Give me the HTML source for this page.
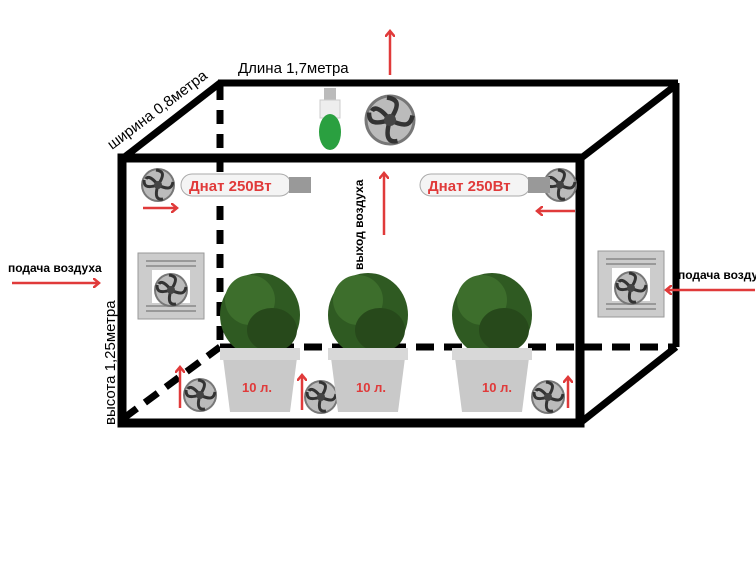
<!DOCTYPE html>
<html><head><meta charset="utf-8"><style>body{margin:0;background:#fff}svg{display:block}text{font-family:"Liberation Sans",sans-serif}</style></head><body>
<svg width="756" height="567" viewBox="0 0 756 567">
<defs>
<marker id="ah" markerWidth="10" markerHeight="10" refX="5" refY="5" orient="auto" markerUnits="userSpaceOnUse"><path d="M0,0 L6,5 L0,10" fill="none" stroke="#e03a3a" stroke-width="2.5"/></marker>
<g id="fan"><circle r="17" fill="#777"/><circle r="15" fill="#bbb"/><path d="M0,0 C8,-12 4,-14 -2,-15 M0,0 C12,6 14,2 15,-3 M0,0 C-4,13 0,15 5,14 M0,0 C-13,4 -14,0 -14,-5 M0,0 C-8,-10 -11,-8 -12,-6" stroke="#333" stroke-width="3" fill="none"/><circle r="4" fill="#444"/></g>
<g id="plant"><ellipse cx="0" cy="-35" rx="40" ry="42" fill="#2f5a22"/><ellipse cx="-10" cy="-50" rx="25" ry="25" fill="#3d6e2c"/><ellipse cx="12" cy="-20" rx="25" ry="22" fill="#27491b"/><path d="M-38,0 L38,0 L30,62 L-30,62 Z" fill="#c9c9c9"/><rect x="-40" y="-2" width="80" height="12" fill="#d8d8d8"/></g>
<g id="vent"><rect width="66" height="66" fill="#ccc" stroke="#999"/><g stroke="#888" stroke-width="1.5"><line x1="8" y1="8" x2="58" y2="8"/><line x1="8" y1="13" x2="58" y2="13"/><line x1="8" y1="53" x2="58" y2="53"/><line x1="8" y1="58" x2="58" y2="58"/></g><rect x="14" y="17" width="38" height="33" fill="#fff"/></g>
<g id="lamp"><rect x="0" y="-11" width="110" height="22" rx="11" fill="#f4f4f4" stroke="#aaa"/><rect x="108" y="-8" width="22" height="16" fill="#999"/></g>
</defs>
<g stroke="#000" stroke-width="7" fill="none">
<line x1="122" y1="159" x2="220" y2="83"/>
<line x1="218" y1="83" x2="678" y2="83"/>
<line x1="580" y1="159" x2="676" y2="85"/>
<line x1="676" y1="83" x2="676" y2="347"/>
<line x1="580" y1="423" x2="676" y2="347"/>
<line x1="220" y1="86" x2="220" y2="347" stroke-dasharray="14,10"/>
<line x1="220" y1="347" x2="676" y2="347" stroke-dasharray="18,10"/>
<line x1="124" y1="418" x2="220" y2="347" stroke-dasharray="16,10"/>
<rect x="122" y="158" width="458" height="265" stroke-width="9"/>
</g>
<g transform="translate(330,118)"><rect x="-6" y="-30" width="12" height="12" fill="#bbb"/><rect x="-10" y="-18" width="20" height="18" fill="#eee" stroke="#ccc"/><ellipse cx="0" cy="14" rx="11" ry="18" fill="#2aa040"/></g>
<use href="#fan" transform="translate(390,120) scale(1.5)"/>
<use href="#fan" transform="translate(158,185)"/>
<use href="#fan" transform="translate(560,185)"/>
<use href="#fan" transform="translate(200,395)"/>
<use href="#fan" transform="translate(321,397)"/>
<use href="#fan" transform="translate(548,397)"/>
<use href="#lamp" transform="translate(181,185)"/>
<use href="#lamp" transform="translate(420,185)"/>
<text x="189" y="191" fill="#e03a3a" font-weight="bold" font-size="15">Днат 250Вт</text>
<text x="428" y="191" fill="#e03a3a" font-weight="bold" font-size="15">Днат 250Вт</text>
<use href="#vent" transform="translate(138,253)"/>
<use href="#vent" transform="translate(598,251)"/>
<use href="#fan" transform="translate(171,290)"/>
<use href="#fan" transform="translate(631,288)"/>
<use href="#plant" transform="translate(260,350)"/>
<use href="#plant" transform="translate(368,350)"/>
<use href="#plant" transform="translate(492,350)"/>
<text x="242" y="392" fill="#e03a3a" font-weight="bold" font-size="13">10 л.</text>
<text x="356" y="392" fill="#e03a3a" font-weight="bold" font-size="13">10 л.</text>
<text x="482" y="392" fill="#e03a3a" font-weight="bold" font-size="13">10 л.</text>
<g stroke="#e03a3a" stroke-width="2.5" marker-end="url(#ah)">
<line x1="390" y1="75" x2="390" y2="32"/>
<line x1="384" y1="235" x2="384" y2="174"/>
<line x1="12" y1="283" x2="98" y2="283"/>
<line x1="755" y1="290" x2="667" y2="290"/>
<line x1="143" y1="208" x2="176" y2="208"/>
<line x1="575" y1="211" x2="538" y2="211"/>
<line x1="180" y1="408" x2="180" y2="368"/>
<line x1="302" y1="410" x2="302" y2="376"/>
<line x1="568" y1="408" x2="568" y2="378"/>
</g>
<text x="238" y="73" font-size="15">Длина 1,7метра</text>
<text transform="translate(112,150) rotate(-37)" font-size="15">ширина 0,8метра</text>
<text transform="translate(115,425) rotate(-90)" font-size="15">высота 1,25метра</text>
<text transform="translate(363,270) rotate(-90)" font-size="12" font-weight="bold">выход воздуха</text>
<text x="8" y="272" font-size="12" font-weight="bold">подача воздуха</text>
<text x="678" y="279" font-size="12" font-weight="bold">подача воздуха</text>
</svg>
</body></html>
